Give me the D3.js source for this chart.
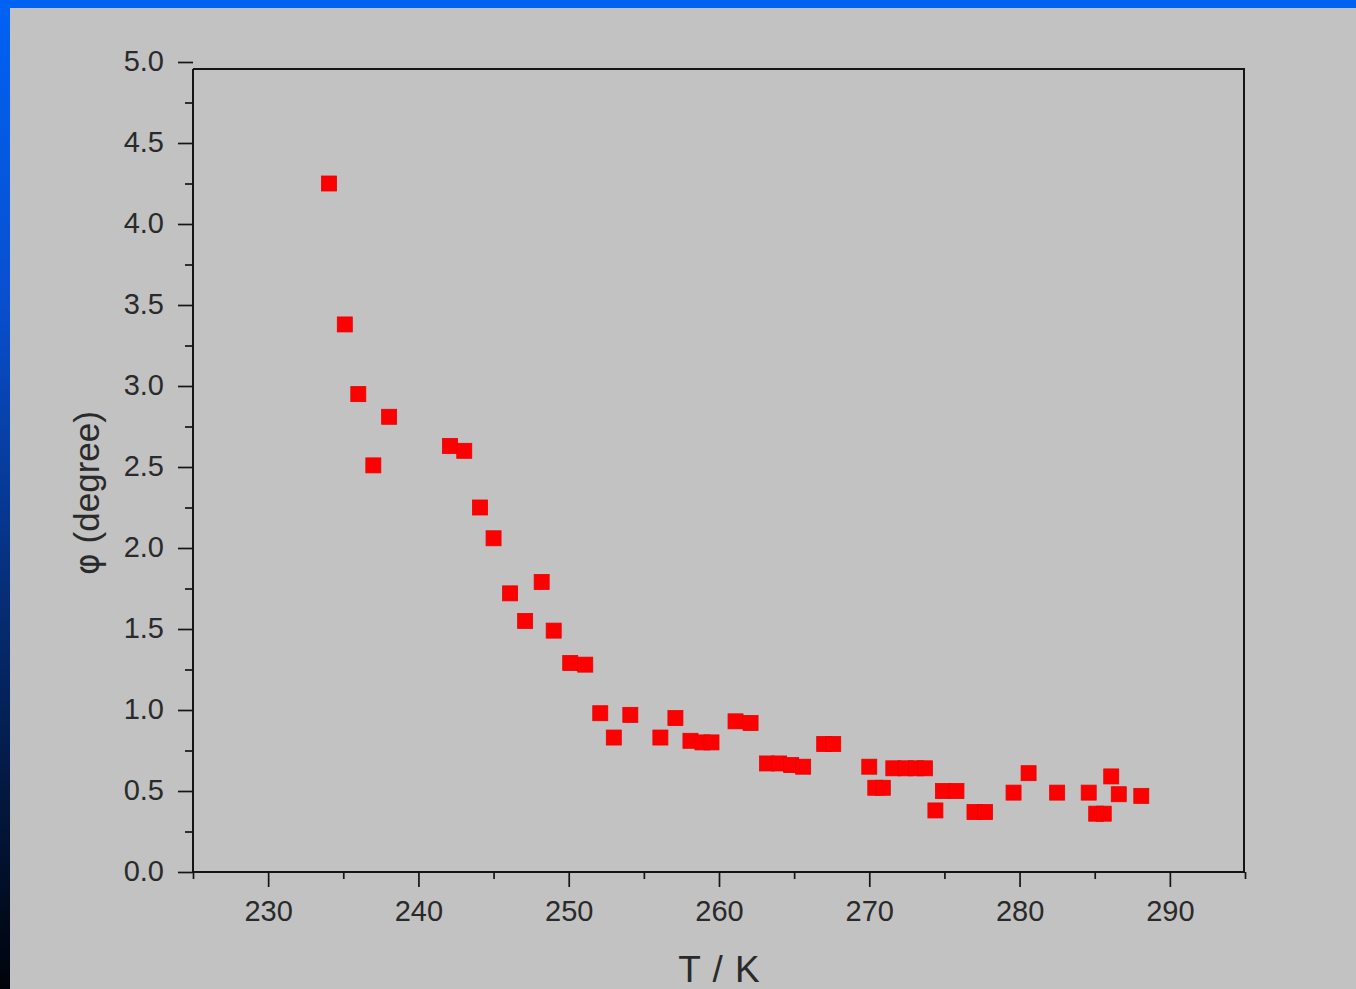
<!DOCTYPE html>
<html>
<head>
<meta charset="utf-8">
<script src="https://cdn.jsdelivr.net/npm/d3@7"></script>
<style>
  html, body { margin: 0; padding: 0; background: #c0c0c0; }
  svg { display: block; }
</style>
</head>
<body>
<script>
// ---- data ----
const temperatureK = [
  234.05, 235.1, 236.0, 237.0, 238.05, 242.1, 243.05, 244.1, 245.0, 246.1,
  247.1, 248.2, 249.0, 250.1, 251.1, 252.1, 253.0, 254.1, 256.1, 257.1,
  258.1, 258.9, 259.5, 261.1, 262.1, 263.2, 264.0, 264.8, 265.6, 267.0,
  267.6, 270.0, 270.4, 270.9, 271.6, 272.4, 273.1, 273.7, 274.4, 274.9,
  275.8, 277.0, 277.7, 279.6, 280.6, 282.5, 284.6, 285.1, 285.6, 286.1,
  286.6, 288.1
];
const phiDegree = [
  4.25, 3.38, 2.95, 2.51, 2.81, 2.63, 2.60, 2.25, 2.06, 1.72,
  1.55, 1.79, 1.49, 1.29, 1.28, 0.98, 0.83, 0.97, 0.83, 0.95,
  0.81, 0.80, 0.80, 0.93, 0.92, 0.67, 0.67, 0.66, 0.65, 0.79,
  0.79, 0.65, 0.52, 0.52, 0.64, 0.64, 0.64, 0.64, 0.38, 0.50,
  0.50, 0.37, 0.37, 0.49, 0.61, 0.49, 0.49, 0.36, 0.36, 0.59,
  0.48, 0.47
];
const xMajorTicks = [230, 240, 250, 260, 270, 280, 290];
const xMinorTicks = [225, 235, 245, 255, 265, 275, 285, 295];
const yMajorTicks = [0, 0.5, 1.0, 1.5, 2.0, 2.5, 3.0, 3.5, 4.0, 4.5, 5.0];
const yMinorTicks = [0.25, 0.75, 1.25, 1.75, 2.25, 2.75, 3.25, 3.75, 4.25, 4.75];
const xTitle = "T / K";
const yTitleSymbol = "\u03C6";
const yTitleText = " (degree)";

// ---- layout ----
const W = 1356, H = 989;
const left = 193, right = 1245, bottom = 872, topTick = 62, frameTop = 69;

const svg = d3.select("body").append("svg").attr("width", W).attr("height", H);

const defs = svg.append("defs");
const grad = defs.append("linearGradient").attr("id", "leftStrip")
  .attr("x1", 0).attr("y1", 0).attr("x2", 0).attr("y2", 1);
grad.append("stop").attr("offset", "0%").attr("stop-color", "#0062f4");
grad.append("stop").attr("offset", "30%").attr("stop-color", "#0850d0");
grad.append("stop").attr("offset", "60%").attr("stop-color", "#062e78");
grad.append("stop").attr("offset", "100%").attr("stop-color", "#00030a");

svg.append("rect").attr("x", 0).attr("y", 0).attr("width", W).attr("height", H).attr("fill", "#c2c2c2");
svg.append("rect").attr("x", 0).attr("y", 0).attr("width", W).attr("height", 8).attr("fill", "#0062f0");
svg.append("rect").attr("x", 0).attr("y", 0).attr("width", 10).attr("height", H).attr("fill", "url(#leftStrip)");

const x = d3.scaleLinear().domain([225, 295]).range([left, right]);
const y = d3.scaleLinear().domain([0, 5]).range([bottom, topTick]);

const fontFam = "Arial, 'Liberation Sans', sans-serif";
const labelColor = "#2a2a2a";

// frame (top and right)
svg.append("path")
  .attr("d", `M${left},${frameTop}H${right - 1}V${bottom}`)
  .attr("fill", "none").attr("stroke", "#151515").attr("stroke-width", 2);

// minor ticks
const xMinor = svg.append("g").attr("transform", `translate(0,${bottom})`)
  .call(d3.axisBottom(x).tickValues(xMinorTicks).tickSize(7).tickFormat(""));
const yMinor = svg.append("g").attr("transform", `translate(${left},0)`)
  .call(d3.axisLeft(y).tickValues(yMinorTicks).tickSize(8).tickFormat(""));

// major axes
const xAxis = svg.append("g").attr("transform", `translate(0,${bottom})`)
  .call(d3.axisBottom(x).tickValues(xMajorTicks).tickSize(15).tickPadding(13).tickFormat(d3.format("d")));
const yAxis = svg.append("g").attr("transform", `translate(${left},0)`)
  .call(d3.axisLeft(y).tickValues(yMajorTicks).tickSize(15).tickPadding(14).tickFormat(d3.format(".1f")));

[xMinor, yMinor, xAxis, yAxis].forEach(g => {
  g.selectAll("path.domain").attr("stroke", "#151515").attr("stroke-width", 2);
  g.selectAll(".tick line").attr("stroke", "#151515").attr("stroke-width", 1.7);
});
[xMinor, yMinor].forEach(g => g.select("path.domain").remove());
xAxis.select("path.domain").attr("d", `M${left},0H${right}`);
yAxis.select("path.domain").attr("d", `M0,${bottom}V${frameTop}`);

[xAxis, yAxis].forEach(g => {
  g.selectAll(".tick text")
    .attr("font-family", fontFam).attr("font-size", 29).attr("fill", labelColor);
});
yAxis.selectAll(".tick text").attr("dy", "0.3em");

// axis titles
svg.append("text")
  .attr("x", (left + right) / 2).attr("y", 982)
  .attr("text-anchor", "middle")
  .attr("font-family", fontFam).attr("font-size", 37).attr("fill", labelColor)
  .attr("word-spacing", 2)
  .text(xTitle);

const yt = svg.append("text")
  .attr("transform", `translate(99,${493}) rotate(-90)`)
  .attr("text-anchor", "middle")
  .attr("font-family", fontFam).attr("font-size", 35).attr("fill", labelColor);
yt.append("tspan").attr("font-family", "'DejaVu Sans', sans-serif").attr("font-size", 33).text(yTitleSymbol);
yt.append("tspan").text(yTitleText);

// points
const pts = temperatureK.map((t, i) => ({ t, p: phiDegree[i] }));
const s = 15;
svg.append("g").selectAll("rect").data(pts).join("rect")
  .attr("x", d => x(d.t) - s / 2)
  .attr("y", d => y(d.p) - s / 2)
  .attr("width", s).attr("height", s)
  .attr("fill", "#ff0000")
  .attr("stroke", "#e80000").attr("stroke-width", 0.8);
</script>
</body>
</html>
